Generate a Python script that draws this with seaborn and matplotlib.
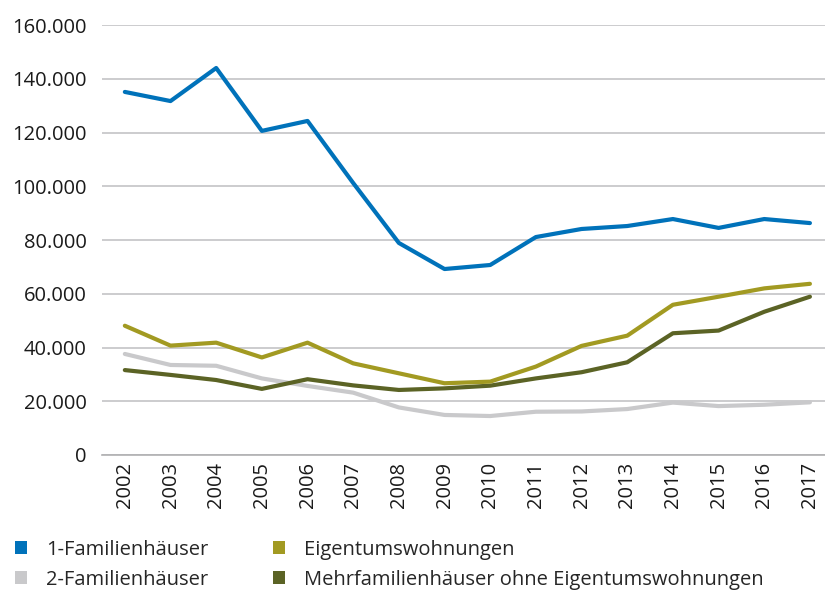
import pandas as pd
import matplotlib

matplotlib.use("Agg")
import matplotlib.pyplot as plt  # noqa: E402
import seaborn as sns  # noqa: E402
from matplotlib.ticker import FuncFormatter, MultipleLocator  # noqa: E402
from matplotlib.patches import Patch  # noqa: E402

years = [str(y) for y in range(2002, 2018)]

efh = [135100, 131700, 144000, 120600, 124300, 101200, 78900, 69200,
       70700, 81100, 84100, 85200, 87800, 84500, 87800, 86300]
zfh = [37600, 33500, 33200, 28500, 25700, 23200, 17700, 14900,
       14500, 16100, 16200, 17100, 19500, 18200, 18700, 19600]
etw = [48100, 40700, 41800, 36300, 41800, 34100, 30400, 26700,
       27300, 32900, 40600, 44400, 55900, 58900, 62000, 63700]
mfh = [31600, 29800, 27900, 24600, 28200, 25900, 24200, 24800,
       25800, 28500, 30800, 34500, 45300, 46300, 53300, 58900]

series = {
    "1-Familienhäuser": efh,
    "2-Familienhäuser": zfh,
    "Eigentumswohnungen": etw,
    "Mehrfamilienhäuser ohne Eigentumswohnungen": mfh,
}
colors = {
    "1-Familienhäuser": "#0072BA",
    "2-Familienhäuser": "#C9C9CB",
    "Eigentumswohnungen": "#A29A22",
    "Mehrfamilienhäuser ohne Eigentumswohnungen": "#5B6325",
}

df = pd.DataFrame(
    [(i, name, v) for name, vals in series.items() for i, v in enumerate(vals)],
    columns=["pos", "series", "value"],
)

sns.set_theme(style="white")
plt.rcParams["font.family"] = ["Open Sans", "DejaVu Sans"]

fig = plt.figure(figsize=(8.25, 5.9), dpi=100)
ax = fig.add_axes([102 / 825, 1 - 455 / 590, 723 / 825, 430 / 590])

# draw back-to-front so the blue line is on top like the original
for name in ["2-Familienhäuser", "Mehrfamilienhäuser ohne Eigentumswohnungen",
             "Eigentumswohnungen", "1-Familienhäuser"]:
    sns.lineplot(data=df[df["series"] == name], x="pos", y="value",
                 color=colors[name], linewidth=3.0, ax=ax, legend=False)

ax.set_xlim(-0.5, 15.33)
ax.set_ylim(0, 160000)
ax.yaxis.set_major_locator(MultipleLocator(20000))
ax.yaxis.set_major_formatter(
    FuncFormatter(lambda v, _: f"{int(v):,}".replace(",", ".")))
ax.grid(axis="y", color="#C4C4C6", linewidth=1.2)
ax.set_axisbelow(True)

ax.set_xticks(range(len(years)))
ax.set_xticklabels(years, rotation=90, fontsize=14.5, color="#1a1a1a")
ax.set_xticks([i - 0.5 for i in range(len(years))], minor=True)
ax.tick_params(axis="x", which="major", length=0, pad=5)
ax.tick_params(axis="x", which="minor", length=14, width=1.2, color="#B0B0B2")
ax.tick_params(axis="y", length=0, labelsize=14.5, labelcolor="#1a1a1a", pad=11)
ax.set_xlabel("")
ax.set_ylabel("")

for side in ["top", "right", "left"]:
    ax.spines[side].set_visible(False)
ax.spines["bottom"].set_color("#B0B0B2")
ax.spines["bottom"].set_linewidth(1.2)

handles = [Patch(facecolor=colors[n], edgecolor="none") for n in series]
fig.legend(handles, list(series), loc="lower left", bbox_to_anchor=(-0.004, -0.03),
           ncol=2, frameon=False, fontsize=14.5, handlelength=0.6,
           handleheight=0.6, handletextpad=0.95, columnspacing=3.2,
           labelspacing=0.5)

fig.savefig("out.png", dpi=100)
